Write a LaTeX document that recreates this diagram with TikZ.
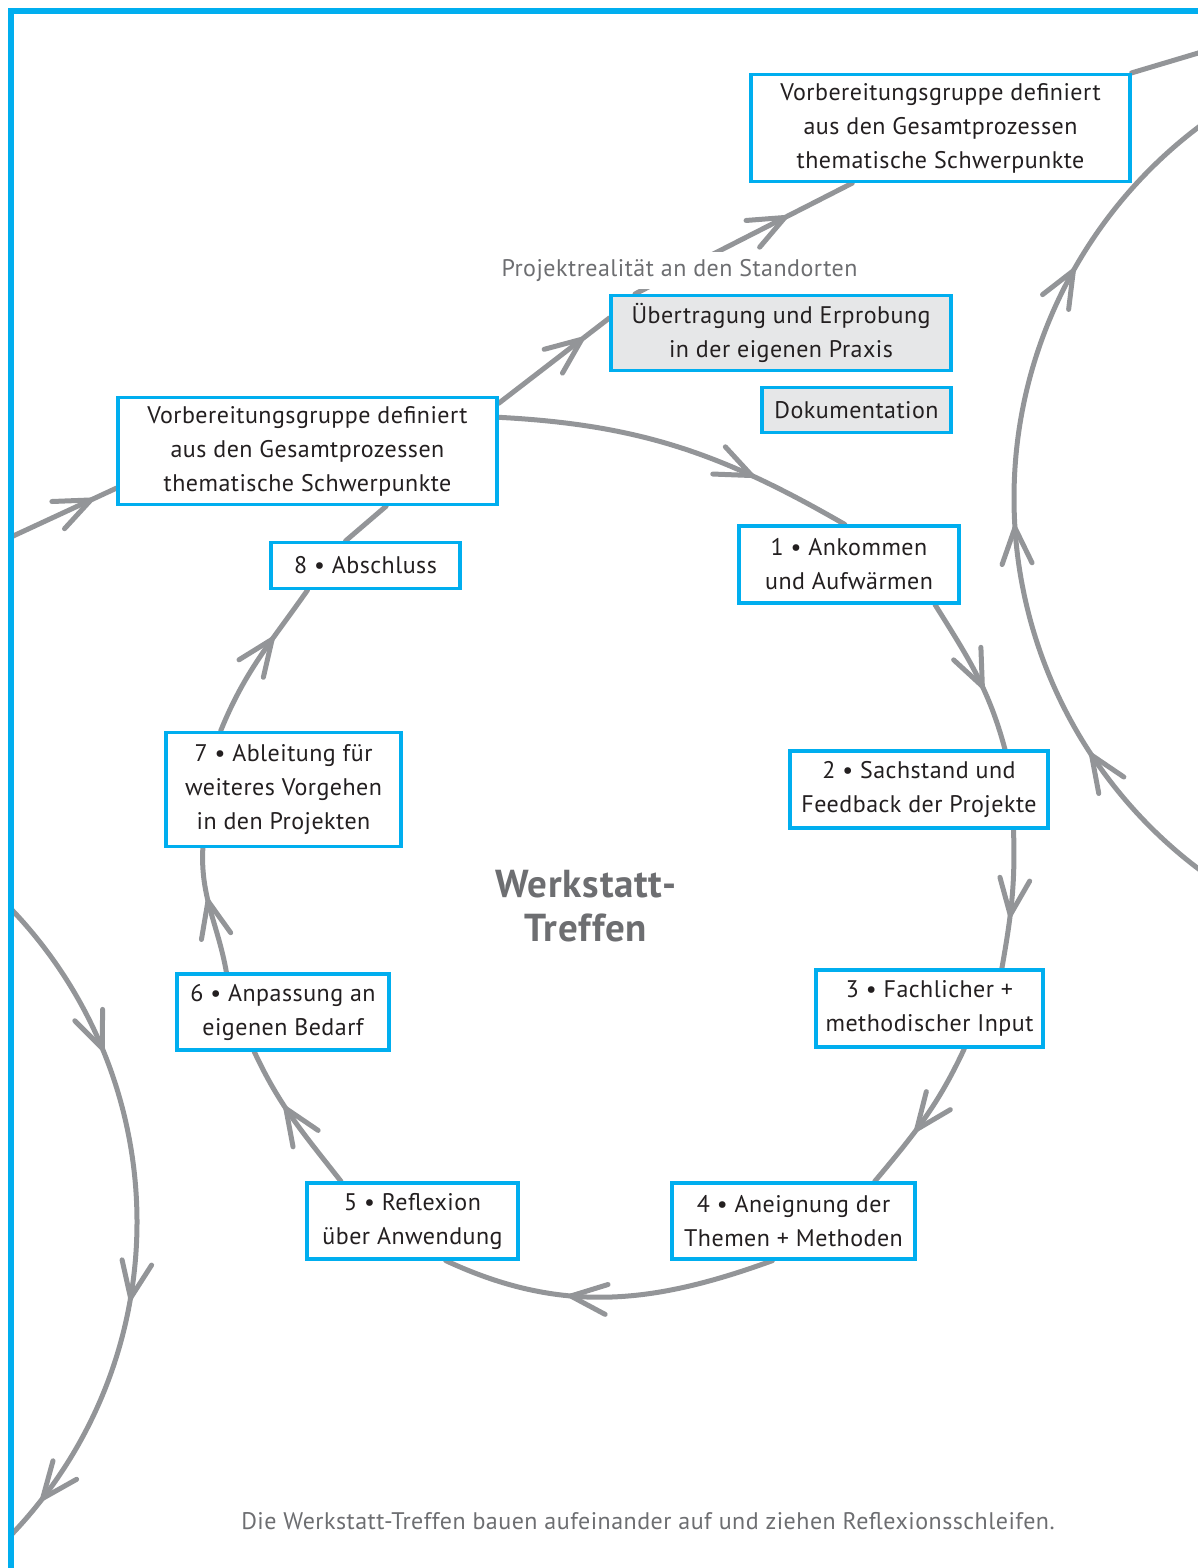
\documentclass[tikz,border=0pt]{standalone}
\usepackage{fontspec}
\setmainfont{PT Sans}[LetterSpace=2]
\usepackage{xcolor}
\usepackage{tikz}
\usetikzlibrary{
  positioning,
  calc,
  arrows.meta,
  decorations.markings
}

\definecolor{wsblue}{HTML}{00AEEF}
\definecolor{wsline}{HTML}{939598}
\definecolor{wsfill}{HTML}{E6E7E8}
\definecolor{wstext}{HTML}{231F20}
\definecolor{wsgray}{HTML}{6D6E71}

\pgfdeclarelayer{bg}
\pgfsetlayers{bg,main}

\newcommand{\wsarrow}{\arrow{Straight Barb[length=18pt,width=15pt,line width=2.5pt,round]}}

\tikzset{
  box/.style={draw=wsblue,line width=1.6pt,fill=white,text=wstext,align=center,
    inner sep=0pt,font=\fontsize{12}{17}\selectfont},
  fillbox/.style={box,fill=wsfill},
  wh/.style 2 args={minimum width=#1*.5pt,minimum height=#2*.5pt},
  flow/.style={draw=wsline,line width=2.5pt,line cap=round},
  mid/.style={postaction={decorate},
    decoration={markings,mark=at position #1 with {\wsarrow}}}
}

\begin{document}
\begin{tikzpicture}[x=.5pt,y=.5pt]
  \useasboundingbox (0,0) rectangle (1198,-1568);

  % ボックス
  \node[box,wh={379}{107}] (vgTop) at (940.5,-128)
    {Vorbereitungsgruppe definiert\\aus den Gesamtprozessen\\thematische Schwerpunkte};
  \node[box,wh={379}{107}] (vgLeft) at (307.5,-451)
    {Vorbereitungsgruppe definiert\\aus den Gesamtprozessen\\thematische Schwerpunkte};
  \node[fillbox,wh={340}{75}] (praxis) at (781,-333)
    {Übertragung und Erprobung\\in der eigenen Praxis};
  \node[fillbox,wh={189}{45}] (doku) at (856.5,-410) {Dokumentation};
  \node[fill=white,text=wsgray,inner xsep=2pt,inner ysep=0pt,minimum height=18.5pt,
    font=\fontsize{12}{14}\selectfont] (projekt) at (679.5,-270)
    {Projektrealität an den Standorten};

  \node[box,wh={220}{77}] (s1) at (849,-564.5) {1 • Ankommen\\und Aufwärmen};
  \node[box,wh={258}{77}] (s2) at (919,-789.5) {2 • Sachstand und\\Feedback der Projekte};
  \node[box,wh={227}{77}] (s3) at (929.5,-1008.5) {3 • Fachlicher +\\methodischer Input};
  \node[box,wh={243}{76}] (s4) at (793.5,-1221) {4 • Aneignung der\\Themen + Methoden};
  \node[box,wh={211}{76}] (s5) at (412.5,-1221) {5 • Reflexion\\über Anwendung};
  \node[box,wh={212}{76}] (s6) at (283,-1012) {6 • Anpassung an\\eigenen Bedarf};
  \node[box,wh={235}{114}] (s7) at (283.5,-789.5)
    {7 • Ableitung für\\weiteres Vorgehen\\in den Projekten};
  \node[box,wh={189}{46}] (s8) at (365.5,-565.5) {8 • Abschluss};

  % 中央のタイトル
  \node[text=wsgray,align=center,font=\bfseries\fontsize{19.5}{22}\selectfont]
    (title) at (586,-906) {Werkstatt-\\Treffen};
  \node[text=wsgray,font=\fontsize{12}{14}\selectfont] (caption) at (648,-1521)
    {Die Werkstatt-Treffen bauen aufeinander auf und ziehen Reflexionsschleifen.};

  % 線と矢印
  \coordinate (inL) at (11,-537);
  \coordinate (outR) at (1205,-51);
  \coordinate (rc) at (1479,-498);
  \coordinate (lc) at (-315,-1222);
  \begin{pgfonlayer}{bg}
    \begin{scope}
      \clip (11,-11) rectangle (1198,-1568);
      % 円環
      \draw[flow,mid=0.72] (vgLeft.10) to[out=-3,in=150] (s1.96);
      \draw[flow,mid=0.6] (s1.-25) to[out=-58,in=105] (s2.25);
      \draw[flow,mid=0.63] (s2.-23) to[out=-88,in=80] (s3.29);
      \draw[flow,mid=0.6] (s3.-49) to[out=-115,in=50] (s4.26);
      \draw[flow,mid=0.62] (s4.-118) to[out=-160,in=-25] (s5.-50);
      \draw[flow,mid=0.6] (s5.151) to[out=128,in=-65] (s6.-126);
      \draw[flow,mid=0.6] (s6.145) to[out=100,in=-93] (s7.-144);
      \draw[flow,mid=0.65] (s7.137) to[out=68,in=-125] (s8.-157);
      \draw[flow] (s8.129) -- (vgLeft.-35);
      % 外側の流れ
      \draw[flow,mid=0.78] (inL) -- (vgLeft.191);
      \draw[flow,mid=0.77] (vgLeft.14) -- (praxis.175);
      \draw[flow,mid=0.70] (praxis.165) -- (vgTop.-148);
      \draw[flow] (vgTop.north east) -- (outR);
      % 隣の円環
      \draw[flow,postaction={decorate},decoration={markings,
          mark=at position 0.203 with {\wsarrow},
          mark=at position 0.47 with {\wsarrow},
          mark=at position 0.764 with {\wsarrow}}]
        ([shift={(236:465)}]rc) arc[start angle=236,end angle=124,radius=465];
      \draw[flow,postaction={decorate},decoration={markings,
          mark=at position 0.268 with {\wsarrow},
          mark=at position 0.604 with {\wsarrow},
          mark=at position 0.896 with {\wsarrow}}]
        ([shift={(48:452)}]lc) arc[start angle=48,end angle=-48,radius=452];
    \end{scope}
  \end{pgfonlayer}

  % 枠線
  \draw[wsblue,line width=3pt] (11,-1568) -- (11,-11) -- (1198,-11);
\end{tikzpicture}
\end{document}
